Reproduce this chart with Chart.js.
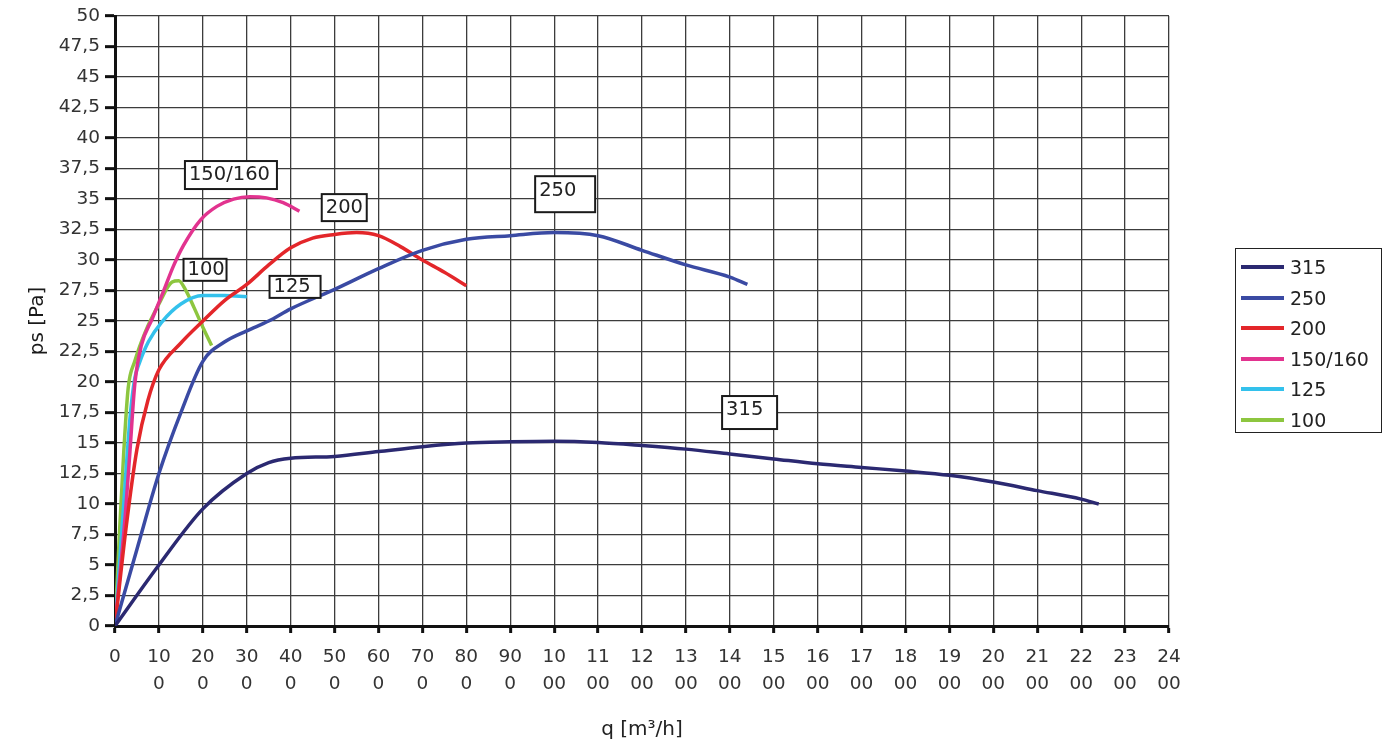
<!DOCTYPE html>
<html>
<head>
<meta charset="utf-8">
<script src="https://cdn.jsdelivr.net/npm/chart.js@4/dist/chart.umd.min.js"></script>
<style>
  body { margin: 0; background: #fff; }
  #wrap { position: relative; width: 1398px; height: 749px; }
  #legend {
    position: absolute; left: 1235px; top: 248px; width: 147px; height: 185px;
    border: 1.5px solid #222; box-sizing: border-box; padding-top: 3px;
    font-family: 'DejaVu Sans', sans-serif; font-size: 19px; color: #222;
  }
  .item { display: flex; align-items: center; height: 30.5px; }
  .swatch { width: 43px; height: 4px; margin: 0 6px 0 5px; }
</style>
</head>
<body>
<div id="wrap">
  <canvas id="chart" width="1398" height="749"></canvas>
  <div id="legend"></div>
</div>
<script>
/* ===== Data (q in m3/h, ps in Pa) ===== */
const series   = ['315', '250', '200', '150/160', '125', '100'];
const colors   = ['#2b2971', '#3a4aa3', '#e3262a', '#e2338f', '#33c1ec', '#8dc63f'];

const q315 = [0, 100, 200, 300, 350, 400, 500, 600, 700, 800, 900, 1000, 1100, 1200, 1300, 1400, 1500, 1600, 1700, 1800, 1900, 2000, 2100, 2200, 2240];
const p315 = [0, 5.0, 9.6, 12.5, 13.4, 13.75, 13.9, 14.3, 14.7, 15.0, 15.1, 15.15, 15.05, 14.8, 14.5, 14.1, 13.7, 13.3, 13.0, 12.7, 12.35, 11.8, 11.1, 10.4, 10.0];

const q250 = [0, 50, 100, 150, 200, 250, 300, 350, 400, 500, 600, 700, 800, 900, 1000, 1100, 1200, 1300, 1400, 1440];
const p250 = [0, 6.3, 12.5, 17.5, 21.7, 23.3, 24.2, 25.0, 26.0, 27.6, 29.3, 30.8, 31.7, 32.0, 32.25, 32.0, 30.8, 29.6, 28.6, 28.0];

const q200 = [0, 25, 50, 75, 100, 150, 200, 250, 300, 350, 400, 450, 500, 550, 600, 650, 700, 750, 800];
const p200 = [0, 8.0, 14.5, 18.5, 21.0, 23.2, 25.0, 26.7, 28.0, 29.6, 31.0, 31.8, 32.1, 32.25, 32.0, 31.1, 30.0, 29.0, 27.9];

const q150 = [0, 23, 34, 45, 60, 85, 110, 133, 156, 195, 232, 270, 307, 345, 383, 420];
const p150 = [0, 8.9, 14.3, 19.8, 23.0, 25.2, 27.4, 29.5, 31.2, 33.3, 34.4, 35.0, 35.2, 35.1, 34.7, 34.0];

const q125 = [0, 12, 23, 34, 45, 55, 76, 106, 150, 200, 250, 300];
const p125 = [0, 6.0, 11.6, 17.0, 20.3, 21.5, 23.3, 24.9, 26.4, 27.1, 27.1, 27.0];

const q100 = [0, 10, 20, 30, 45, 70, 100, 130, 145, 160, 180, 200, 220];
const p100 = [0, 7.5, 14.3, 19.5, 21.7, 24.2, 26.4, 28.2, 28.3, 27.6, 26.1, 24.5, 23.0];

const qValues = [q315, q250, q200, q150, q125, q100];
const pValues = [p315, p250, p200, p150, p125, p100];

// Curve tags drawn in the plot: [text, q, ps, box w, box h]
const tags = [
  ['150/160', 264, 36.97, 92, 28],
  ['200', 522, 34.3, 45, 27],
  ['250', 1025, 35.4, 60, 36],
  ['100', 205, 29.2, 43, 22],
  ['125', 410, 27.8, 51, 22],
  ['315', 1445, 17.5, 55, 33],
];

const FONT = "'DejaVu Sans', sans-serif";

/* ===== Tag boxes plugin ===== */
const tagPlugin = {
  id: 'tagBoxes',
  afterDatasetsDraw(chart) {
    const { ctx, scales: { x, y } } = chart;
    ctx.save();
    ctx.font = '19.5px ' + FONT;
    ctx.textBaseline = 'middle';
    ctx.textAlign = 'left';
    tags.forEach(([text, q, v, w, h]) => {
      const cx = x.getPixelForValue(q);
      const cy = y.getPixelForValue(v);
      ctx.fillStyle = '#fff';
      ctx.fillRect(cx - w / 2, cy - h / 2, w, h);
      ctx.lineWidth = 2;
      ctx.strokeStyle = '#1a1a1a';
      ctx.strokeRect(cx - w / 2, cy - h / 2, w, h);
      ctx.fillStyle = '#222';
      ctx.fillText(text, cx - w / 2 + 4, cy - (h > 30 ? 3 : 0));
    });
    ctx.restore();
  }
};

/* ===== Chart ===== */
const datasets = series.map((name, i) => ({
  label: name,
  data: qValues[i].map((q, j) => ({ x: q, y: pValues[i][j] })),
  borderColor: colors[i],
  backgroundColor: colors[i],
  borderWidth: 3.5,
  pointRadius: 0,
  fill: false,
  cubicInterpolationMode: 'monotone',
}));

new Chart(document.getElementById('chart'), {
  type: 'line',
  data: { datasets },
  options: {
    responsive: false,
    animation: false,
    layout: { padding: { left: 0, right: 229, top: 9, bottom: 0 } },
    plugins: { legend: { display: false }, tooltip: { enabled: false } },
    scales: {
      x: {
        type: 'linear', min: 0, max: 2400,
        afterFit: s => { s.height = 123; },
        grid: { color: '#3c3c3c', lineWidth: 1.3, tickColor: '#111', tickWidth: 3, tickLength: 7 },
        border: { color: '#111', width: 3 },
        ticks: {
          stepSize: 100, autoSkip: false, maxRotation: 0, padding: 11,
          color: '#333', font: { family: FONT, size: 18.5, lineHeight: 1.46 },
          callback: v => { const s = String(v); return s.length > 2 ? [s.slice(0, 2), s.slice(2)] : s; }
        },
        title: {
          display: true, text: 'q [m³/h]', color: '#222',
          font: { family: FONT, size: 20 }, padding: { top: 0, bottom: 7 }
        }
      },
      y: {
        min: 0, max: 50,
        afterFit: s => { s.width = 115; },
        grid: { color: '#3c3c3c', lineWidth: 1.3, tickColor: '#111', tickWidth: 3, tickLength: 10 },
        border: { color: '#111', width: 3 },
        ticks: {
          stepSize: 2.5, padding: 5, color: '#333',
          font: { family: FONT, size: 18.5 },
          callback: v => String(v).replace('.', ',')
        },
        title: {
          display: true, text: 'ps [Pa]', color: '#1a1a1a',
          font: { family: FONT, size: 20 }, padding: { top: 26, bottom: 0 }
        }
      }
    }
  },
  plugins: [tagPlugin]
});

/* ===== Legend ===== */
const legend = document.getElementById('legend');
series.forEach((name, i) => {
  const row = document.createElement('div');
  row.className = 'item';
  row.innerHTML = `<span class="swatch" style="background:${colors[i]}"></span><span>${name}</span>`;
  legend.appendChild(row);
});
</script>
</body>
</html>
